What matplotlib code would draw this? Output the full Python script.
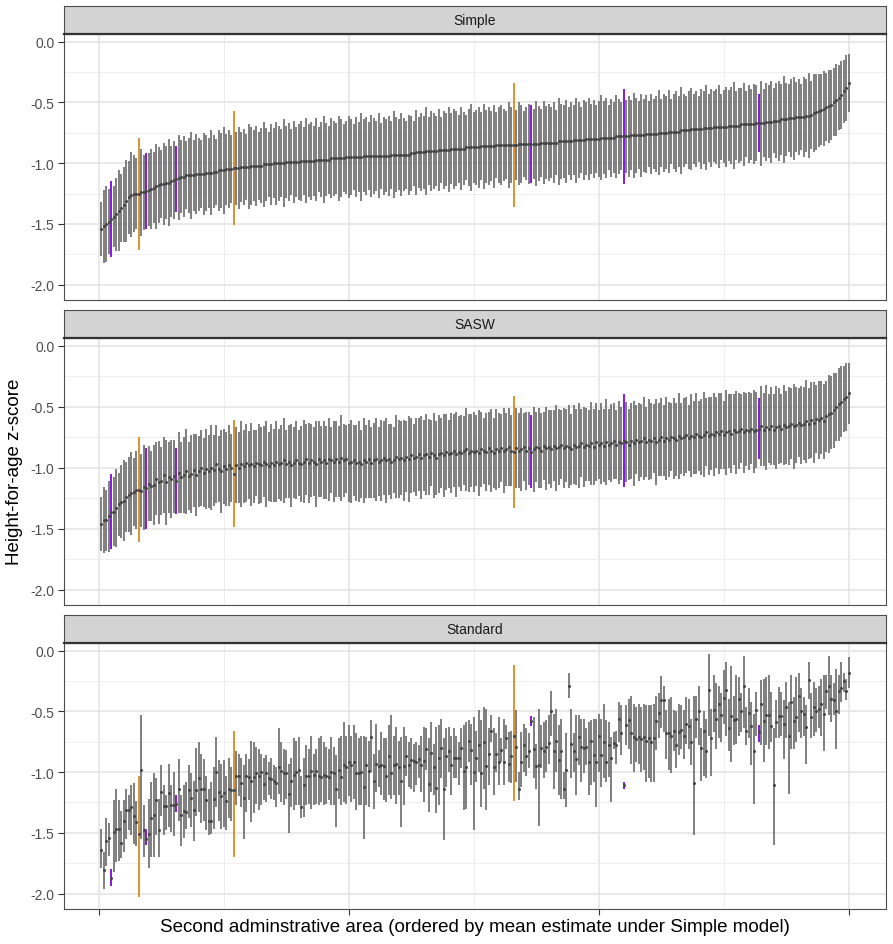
import numpy as np
import matplotlib.pyplot as plt
from matplotlib.ticker import MultipleLocator

plt.rcParams['font.family'] = ['Liberation Sans', 'DejaVu Sans']
plt.rcParams['axes.unicode_minus'] = False

# Alla värden i hundradelar av z-score, områden 1..300 sorterade efter Simple-medel
simple_mean = [
    -154, -152, -150, -148, -146, -144, -142, -139, -137, -134,
    -131, -128, -126, -125, -125, -125, -124, -124, -123, -122,
    -121, -120, -119, -118, -117, -117, -116, -116, -115, -114,
    -113, -112, -111, -111, -110, -110, -110, -110, -109, -109,
    -109, -109, -108, -108, -108, -107, -107, -106, -106, -106,
    -105, -105, -105, -104, -104, -104, -103, -103, -103, -103,
    -102, -102, -102, -102, -102, -101, -101, -101, -101, -100,
    -100, -100, -100, -100, -99, -99, -99, -99, -99, -99,
    -98, -98, -98, -98, -98, -98, -97, -97, -97, -97,
    -97, -97, -96, -96, -96, -96, -96, -96, -95, -95,
    -95, -95, -95, -95, -95, -94, -94, -94, -94, -94,
    -94, -94, -94, -94, -94, -94, -93, -93, -93, -93,
    -93, -93, -93, -93, -92, -92, -91, -91, -91, -91,
    -90, -90, -90, -90, -90, -89, -89, -89, -89, -89,
    -88, -88, -88, -88, -88, -88, -87, -87, -87, -87,
    -87, -87, -86, -86, -86, -86, -86, -86, -85, -85,
    -85, -85, -85, -85, -85, -85, -85, -84, -84, -84,
    -84, -84, -84, -84, -84, -84, -83, -83, -83, -83,
    -83, -83, -83, -82, -82, -82, -82, -82, -82, -81,
    -81, -81, -81, -81, -80, -80, -80, -80, -80, -80,
    -79, -79, -79, -79, -79, -79, -78, -78, -78, -78,
    -78, -78, -77, -77, -77, -77, -77, -77, -76, -76,
    -76, -76, -76, -75, -75, -75, -75, -74, -74, -74,
    -74, -74, -73, -73, -73, -73, -72, -72, -72, -72,
    -72, -71, -71, -71, -71, -70, -70, -70, -70, -70,
    -70, -69, -69, -69, -69, -69, -68, -68, -68, -68,
    -68, -68, -67, -67, -67, -67, -66, -66, -66, -65,
    -65, -65, -64, -64, -64, -63, -63, -63, -62, -62,
    -62, -62, -61, -61, -60, -59, -58, -57, -56, -55,
    -54, -53, -52, -50, -48, -46, -44, -41, -38, -34,
]
simple_hw = [
    22, 30, 31, 27, 31, 25, 30, 33, 28, 31, 34, 30, 35, 32, 29, 46, 36, 31, 31, 30,
    33, 29, 35, 31, 28, 34, 30, 36, 29, 32, 27, 35, 30, 33, 28, 31, 36, 29, 33, 30,
    28, 34, 31, 29, 35, 30, 27, 33, 31, 36, 29, 32, 28, 47, 30, 34, 29, 31, 27, 35,
    32, 29, 33, 28, 31, 35, 30, 27, 33, 29, 34, 31, 28, 36, 30, 32, 27, 34, 29, 31,
    33, 28, 35, 30, 32, 29, 34, 27, 31, 36, 30, 28, 33, 31, 29, 35, 32, 28, 30, 34,
    31, 27, 33, 29, 36, 30, 32, 28, 34, 31, 29, 35, 27, 32, 30, 33, 28, 36, 31, 29,
    34, 30, 28, 33, 31, 27, 35, 29, 32, 30, 36, 28, 33, 31, 29, 34, 27, 32, 30, 35,
    29, 33, 31, 28, 34, 30, 27, 32, 36, 29, 31, 33, 28, 35, 30, 32, 29, 34, 27, 31,
    33, 30, 28, 35, 31, 51, 29, 34, 32, 27, 30, 33, 32, 29, 35, 31, 28, 34, 30, 32,
    29, 33, 27, 36, 31, 30, 34, 28, 32, 29, 35, 31, 27, 33, 30, 34, 29, 32, 28, 31,
    35, 30, 33, 27, 32, 29, 34, 31, 28, 39, 30, 33, 29, 35, 31, 28, 34, 30, 32, 27,
    33, 29, 31, 35, 28, 32, 30, 34, 27, 31, 33, 29, 36, 30, 28, 32, 34, 29, 31, 27,
    33, 30, 35, 28, 32, 29, 31, 34, 27, 30, 33, 29, 32, 36, 28, 31, 30, 34, 27, 32,
    29, 33, 31, 24, 35, 28, 32, 30, 34, 27, 31, 33, 29, 36, 30, 28, 32, 34, 29, 31,
    27, 33, 30, 35, 28, 32, 31, 30, 29, 31, 28, 30, 29, 28, 30, 27, 28, 26, 27, 24,
]
sasw_mean = [
    -146, -143, -143, -140, -136, -136, -133, -130, -128, -127,
    -124, -122, -121, -120, -118, -118, -119, -116, -117, -113,
    -115, -114, -109, -112, -111, -106, -112, -108, -109, -107,
    -111, -104, -108, -106, -103, -107, -105, -102, -106, -103,
    -100, -104, -101, -103, -100, -102, -97, -101, -103, -99,
    -101, -98, -100, -105, -98, -100, -97, -99, -96, -98,
    -97, -99, -96, -97, -98, -95, -97, -99, -96, -98,
    -95, -97, -96, -94, -97, -95, -98, -96, -94, -96,
    -97, -95, -93, -96, -94, -95, -97, -93, -95, -94,
    -96, -93, -94, -95, -93, -95, -92, -94, -93, -96,
    -95, -94, -96, -95, -97, -94, -95, -93, -96, -94,
    -93, -95, -94, -92, -94, -93, -95, -94, -91, -93,
    -92, -94, -91, -93, -90, -92, -91, -89, -92, -90,
    -89, -91, -88, -90, -92, -89, -88, -90, -87, -89,
    -88, -86, -89, -87, -88, -86, -85, -88, -86, -87,
    -86, -88, -85, -86, -87, -84, -86, -88, -85, -86,
    -84, -86, -85, -83, -86, -87, -84, -86, -85, -83,
    -86, -84, -87, -85, -83, -84, -86, -82, -84, -83,
    -85, -82, -84, -83, -81, -84, -82, -83, -85, -81,
    -83, -82, -80, -83, -81, -82, -80, -83, -79, -81,
    -80, -82, -79, -81, -80, -78, -81, -79, -80, -78,
    -79, -81, -78, -80, -77, -79, -78, -76, -79, -77,
    -78, -76, -79, -77, -75, -78, -76, -77, -75, -76,
    -77, -74, -76, -75, -73, -76, -74, -75, -72, -74,
    -75, -73, -71, -74, -72, -73, -71, -72, -70, -73,
    -71, -70, -72, -69, -71, -70, -68, -71, -69, -70,
    -68, -70, -69, -68, -66, -69, -67, -68, -66, -69,
    -67, -66, -68, -65, -67, -66, -64, -66, -65, -63,
    -65, -64, -62, -64, -61, -63, -60, -61, -59, -62,
    -58, -56, -55, -53, -50, -48, -46, -44, -42, -39,
]
sasw_hw = [
    22, 27, 25, 29, 31, 28, 32, 26, 30, 33, 29, 31, 34, 28, 32, 43, 30, 35, 33, 31,
    29, 33, 30, 34, 28, 31, 35, 29, 32, 30, 27, 33, 29, 31, 35, 28, 32, 30, 34, 29,
    31, 28, 33, 30, 35, 29, 32, 27, 34, 31, 30, 33, 28, 44, 31, 29, 35, 30, 32, 28,
    34, 30, 27, 33, 31, 29, 35, 28, 32, 30, 33, 29, 31, 35, 28, 30, 34, 29, 32, 27,
    31, 34, 29, 33, 30, 28, 35, 31, 29, 32, 30, 34, 27, 33, 31, 29, 35, 30, 28, 32,
    34, 29, 31, 33, 28, 35, 30, 32, 29, 31, 34, 28, 33, 30, 35, 29, 31, 27, 34, 32,
    30, 33, 29, 35, 31, 28, 32, 30, 34, 29, 33, 31, 27, 35, 30, 32, 29, 34, 31, 28,
    33, 30, 35, 29, 31, 28, 34, 32, 30, 33, 29, 35, 31, 27, 32, 30, 34, 29, 33, 31,
    28, 35, 30, 32, 29, 46, 33, 31, 34, 28, 32, 30, 30, 35, 29, 33, 31, 28, 34, 30,
    32, 29, 35, 31, 28, 33, 30, 34, 29, 32, 31, 35, 28, 33, 30, 29, 34, 31, 32, 28,
    33, 30, 35, 29, 32, 31, 28, 34, 30, 38, 33, 29, 31, 35, 28, 32, 30, 34, 29, 33,
    31, 28, 35, 30, 32, 29, 34, 31, 28, 33, 30, 35, 29, 32, 31, 27, 34, 30, 33, 29,
    31, 35, 28, 32, 30, 34, 29, 33, 31, 28, 35, 30, 32, 29, 34, 31, 28, 33, 30, 32,
    29, 34, 31, 25, 33, 30, 35, 28, 32, 29, 34, 31, 28, 33, 30, 32, 29, 35, 31, 28,
    32, 30, 34, 29, 31, 33, 28, 32, 30, 31, 29, 32, 30, 31, 28, 30, 29, 27, 28, 25,
]
std_mean = [
    -164, -181, -157, -154, -187, -149, -147, -147, -158, -140,
    -131, -131, -129, -136, -141, -151, -98, -148, -155, -151,
    -138, -135, -123, -148, -116, -128, -128, -117, -127, -127,
    -126, -114, -135, -132, -133, -115, -121, -131, -115, -105,
    -114, -114, -123, -140, -140, -122, -100, -116, -120, -117,
    -124, -114, -115, -115, -103, -103, -109, -121, -103, -104,
    -107, -104, -101, -103, -100, -110, -101, -105, -106, -107,
    -109, -96, -99, -101, -101, -118, -107, -102, -100, -98,
    -129, -111, -103, -103, -99, -102, -99, -103, -104, -102,
    -103, -104, -100, -101, -114, -98, -104, -94, -96, -92,
    -94, -92, -101, -101, -100, -112, -94, -99, -71, -107,
    -93, -95, -94, -95, -103, -87, -101, -94, -93, -96,
    -107, -95, -87, -94, -90, -91, -92, -89, -94, -91,
    -81, -110, -84, -96, -113, -88, -80, -114, -87, -83,
    -94, -88, -88, -88, -80, -99, -96, -74, -82, -100,
    -88, -78, -101, -75, -95, -85, -66, -96, -85, -92,
    -82, -92, -72, -93, -87, -70, -79, -114, -92, -78,
    -87, -83, -58, -81, -95, -94, -80, -83, -79, -76,
    -50, -83, -74, -90, -83, -114, -98, -29, -77, -83,
    -89, -71, -79, -80, -79, -92, -74, -86, -92, -70,
    -86, -75, -92, -78, -88, -76, -78, -56, -68, -111,
    -61, -57, -68, -71, -73, -71, -73, -71, -74, -72,
    -75, -72, -58, -51, -41, -41, -68, -68, -70, -66,
    -78, -67, -65, -70, -60, -62, -75, -109, -56, -50,
    -80, -66, -83, -32, -72, -49, -56, -44, -53, -39,
    -32, -64, -54, -57, -56, -40, -50, -29, -66, -51,
    -62, -83, -49, -67, -44, -58, -53, -53, -62, -111,
    -59, -54, -54, -60, -46, -70, -42, -58, -55, -37,
    -50, -52, -63, -24, -55, -46, -50, -48, -44, -52,
    -33, -29, -40, -41, -50, -33, -31, -25, -33, -18,
]
std_hi = [
    -147, -166, -138, -142, -180, -123, -114, -123, -132, -123,
    -114, -119, -111, -109, -124, -103, -53, -127, -147, -122,
    -108, -101, -105, -122, -94, -111, -119, -93, -111, -100,
    -119, -89, -119, -111, -108, -94, -101, -107, -80, -75,
    -85, -89, -103, -114, -108, -96, -71, -90, -93, -90,
    -103, -88, -96, -66, -83, -85, -88, -94, -85, -89,
    -74, -75, -79, -81, -85, -88, -86, -92, -88, -94,
    -96, -64, -75, -81, -82, -93, -88, -72, -74, -71,
    -103, -88, -78, -81, -70, -85, -81, -72, -70, -75,
    -79, -81, -71, -79, -86, -72, -70, -59, -70, -61,
    -70, -61, -68, -72, -70, -70, -71, -74, -57, -85,
    -60, -82, -67, -72, -72, -61, -53, -70, -63, -74,
    -71, -63, -70, -75, -72, -77, -75, -78, -70, -63,
    -64, -72, -59, -77, -63, -61, -56, -72, -64, -63,
    -70, -64, -70, -75, -64, -61, -59, -57, -60, -55,
    -66, -49, -57, -46, -48, -64, -53, -64, -68, -55,
    -72, -56, -61, -67, -66, -12, -49, -100, -67, -60,
    -64, -68, -54, -55, -77, -48, -61, -59, -57, -53,
    -33, -52, -48, -61, -56, -100, -68, -18, -48, -68,
    -53, -53, -56, -56, -64, -59, -57, -56, -56, -52,
    -56, -44, -57, -59, -71, -67, -66, -42, -45, -108,
    -45, -40, -37, -44, -46, -44, -46, -44, -45, -45,
    -45, -44, -37, -35, -21, -29, -49, -40, -38, -49,
    -50, -44, -45, -49, -38, -40, -56, -37, -37, -29,
    -64, -50, -56, -3, -48, -20, -27, -29, -35, -16,
    -9, -40, -13, -37, -20, -22, -35, -4, -46, -31,
    -42, -52, -34, -61, -24, -23, -22, -20, -34, -64,
    -41, -30, -34, -41, -26, -42, -20, -38, -22, -18,
    -31, -38, -45, -9, -35, -26, -31, -29, -23, -20,
    -20, -4, -20, -27, -15, -20, -9, -18, -23, -5,
]
std_lo = [
    -179, -196, -177, -169, -194, -182, -174, -173, -171, -166,
    -155, -148, -152, -159, -161, -203, -155, -170, -160, -179,
    -170, -170, -152, -170, -136, -152, -148, -145, -149, -153,
    -133, -140, -161, -154, -147, -138, -145, -157, -136, -133,
    -142, -140, -148, -152, -151, -147, -129, -140, -147, -145,
    -148, -138, -140, -170, -127, -120, -129, -155, -133, -123,
    -141, -134, -126, -131, -127, -123, -125, -119, -122, -123,
    -129, -118, -125, -127, -122, -150, -129, -131, -127, -127,
    -138, -137, -127, -126, -130, -127, -126, -127, -125, -127,
    -126, -123, -127, -127, -145, -122, -127, -125, -126, -120,
    -125, -122, -131, -127, -127, -155, -127, -129, -100, -130,
    -116, -112, -119, -123, -125, -119, -122, -119, -126, -119,
    -145, -127, -103, -112, -114, -116, -111, -105, -116, -125,
    -98, -133, -116, -119, -134, -127, -105, -156, -112, -100,
    -119, -105, -105, -111, -97, -131, -130, -92, -111, -148,
    -108, -100, -129, -114, -131, -111, -75, -119, -100, -111,
    -92, -111, -81, -108, -109, -124, -108, -123, -112, -100,
    -103, -97, -62, -105, -114, -144, -97, -105, -100, -93,
    -70, -114, -100, -119, -122, -122, -129, -39, -105, -100,
    -119, -94, -108, -101, -94, -119, -111, -108, -129, -100,
    -112, -105, -108, -104, -125, -81, -93, -75, -86, -114,
    -78, -81, -93, -100, -92, -93, -100, -98, -108, -105,
    -108, -108, -82, -72, -64, -67, -89, -98, -101, -83,
    -97, -86, -81, -89, -77, -81, -94, -152, -72, -78,
    -107, -103, -105, -70, -103, -67, -81, -72, -75, -60,
    -70, -83, -92, -78, -77, -70, -67, -64, -78, -72,
    -94, -126, -70, -75, -78, -92, -78, -81, -75, -160,
    -72, -72, -70, -89, -72, -118, -81, -81, -75, -67,
    -72, -70, -93, -40, -72, -70, -67, -64, -70, -83,
    -48, -53, -59, -53, -81, -52, -42, -34, -41, -31,
]
orange_areas = [16, 54, 166]
purple_areas = [5, 19, 31, 173, 210, 264]

for name, lst in [('simple_mean', simple_mean), ('simple_hw', simple_hw), ('sasw_mean', sasw_mean),
                  ('sasw_hw', sasw_hw), ('std_mean', std_mean), ('std_hi', std_hi), ('std_lo', std_lo)]:
    assert len(lst) == 300, (name, len(lst))

x = np.arange(1, 301)
sm = np.array(simple_mean) / 100
sh = np.array(simple_hw) / 100
am = np.array(sasw_mean) / 100
ah = np.array(sasw_hw) / 100
panels = [
    ("Simple", sm, sm - sh, sm + sh),
    ("SASW", am, am - ah, am + ah),
    ("Standard", np.array(std_mean) / 100, np.array(std_lo) / 100, np.array(std_hi) / 100),
]

W, H = 893, 945
fig = plt.figure(figsize=(W / 100, H / 100), dpi=100)
panel_px = [(35, 300.7), (339, 605.7), (644, 909.5)]
hl = np.isin(x, orange_areas + purple_areas)

for i, (name, mean, lo, hi) in enumerate(panels):
    top, bottom = panel_px[i]
    ax = fig.add_axes([64 / W, 1 - bottom / H, 822 / W, (bottom - top) / H])
    ax.vlines(x[~hl], lo[~hl], hi[~hl], color='#6a6a6a', lw=1.2, zorder=2)
    for a in orange_areas:
        ax.vlines(a, lo[a - 1], hi[a - 1], color='#d98a1c', lw=1.3, zorder=3)
    for a in purple_areas:
        ax.vlines(a, lo[a - 1], hi[a - 1], color='#8419e0', lw=1.4, zorder=3)
    ax.plot(x, mean, 'o', ms=2.2, color='#474747', mec='none', zorder=4)

    ax.set_xlim(-13.95, 314.95)
    ax.set_ylim(-2.123, 0.063)
    ax.set_xticks([0, 100, 200, 300])
    ax.xaxis.set_minor_locator(MultipleLocator(50))
    ax.set_yticks([0, -0.5, -1.0, -1.5, -2.0])
    ax.set_yticklabels(["0.0", "-0.5", "-1.0", "-1.5", "-2.0"])
    ax.yaxis.set_minor_locator(MultipleLocator(0.25))
    ax.set_axisbelow(True)
    ax.grid(which='major', color='#e3e3e3', lw=1.1)
    ax.grid(which='minor', color='#ebebeb', lw=0.6)
    ax.tick_params(which='minor', length=0)
    ax.tick_params(axis='y', length=4, width=0.8, color='#333333', labelsize=10,
                   labelcolor='#4d4d4d', pad=3)
    if i == 2:
        ax.tick_params(axis='x', length=4, width=0.8, color='#333333', labelbottom=False)
    else:
        ax.tick_params(axis='x', length=0, labelbottom=False)
    for s in ax.spines.values():
        s.set_color('#4d4d4d')
        s.set_linewidth(0.8)

    # facettrubrik
    sax = fig.add_axes([64 / W, 1 - top / H, 822 / W, 28.5 / H])
    sax.set_facecolor('#d3d3d3')
    sax.set_xticks([])
    sax.set_yticks([])
    for s in sax.spines.values():
        s.set_color('#4d4d4d')
        s.set_linewidth(0.8)
    sax.spines['bottom'].set_color('#333333')
    sax.spines['bottom'].set_linewidth(1.6)
    sax.text(0.5, 0.5, name, ha='center', va='center', fontsize=10, color='#1a1a1a',
             transform=sax.transAxes)

fig.text(15 / W, 1 - 472 / H, "Height-for-age z-score", rotation=90, ha='center', va='center',
         fontsize=13.5)
fig.text(475 / W, 1 - 928 / H,
         "Second adminstrative area (ordered by mean estimate under Simple model)",
         ha='center', va='center', fontsize=13.5)

fig.savefig('out.png', dpi=100)
